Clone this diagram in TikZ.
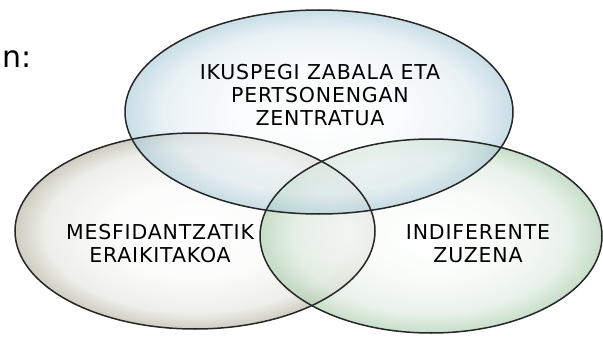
\documentclass[tikz,border=0pt]{standalone}
\usepackage{fontspec}
\setmainfont{DejaVu Sans}
\definecolor{blueE}{HTML}{A6C8D6}
\definecolor{greyE}{HTML}{C4C4B6}
\definecolor{greenE}{HTML}{AFD0B2}
\colorlet{blueM}{white!60!blueE}
\colorlet{blueL}{white!90!blueE}
\colorlet{greyM}{white!65!greyE}
\colorlet{greyL}{white!93!greyE}
\colorlet{greenM}{white!60!greenE}
\colorlet{greenL}{white!90!greenE}
\begin{document}
\begin{tikzpicture}[x=1pt,y=-1pt,
  lbl/.style={align=center,font=\fontsize{20.5}{23}\selectfont\addfontfeature{LetterSpace=4},inner sep=0pt},
  ring/.style={draw=black!85,line width=1.5pt}]
\pgfdeclareradialshading{glossblue}{\pgfpoint{0bp}{0bp}}{color(0bp)=(white); color(11bp)=(blueL); color(20bp)=(blueM); color(25bp)=(blueE); color(50bp)=(blueE)}
\pgfdeclareradialshading{glossgrey}{\pgfpoint{0bp}{0bp}}{color(0bp)=(white); color(12bp)=(greyL); color(21bp)=(greyM); color(25bp)=(greyE); color(50bp)=(greyE)}
\pgfdeclareradialshading{glossgreen}{\pgfpoint{0bp}{0bp}}{color(0bp)=(white); color(11bp)=(greenL); color(20bp)=(greenM); color(25bp)=(greenE); color(50bp)=(greenE)}
\useasboundingbox (0,0) rectangle (603,337);
% shapes
\shade[shading=glossgrey,fill opacity=0.85] (195,231) ellipse [x radius=180,y radius=98];
\shade[shading=glossgreen,fill opacity=0.7] (431,236) ellipse [x radius=171,y radius=97];
\shade[shading=glossblue,fill opacity=0.6] (319,112) ellipse [x radius=194,y radius=102];
\draw[ring] (195,231) ellipse [x radius=180,y radius=98];
\draw[ring] (431,236) ellipse [x radius=171,y radius=97];
\draw[ring] (319,112) ellipse [x radius=194,y radius=102];
% labels
\node[lbl] (t) at (320,95.5) {IKUSPEGI ZABALA ETA\\PERTSONENGAN\\ZENTRATUA};
\node[lbl] (l) at (160,244) {MESFIDANTZATIK\\ERAIKITAKOA};
\node[lbl] (r) at (478,244) {INDIFERENTE\\ZUZENA};
\node[anchor=base west,inner sep=0pt,font=\fontsize{30}{34}\selectfont] (n) at (2.5,67) {n:};
\end{tikzpicture}
\end{document}
